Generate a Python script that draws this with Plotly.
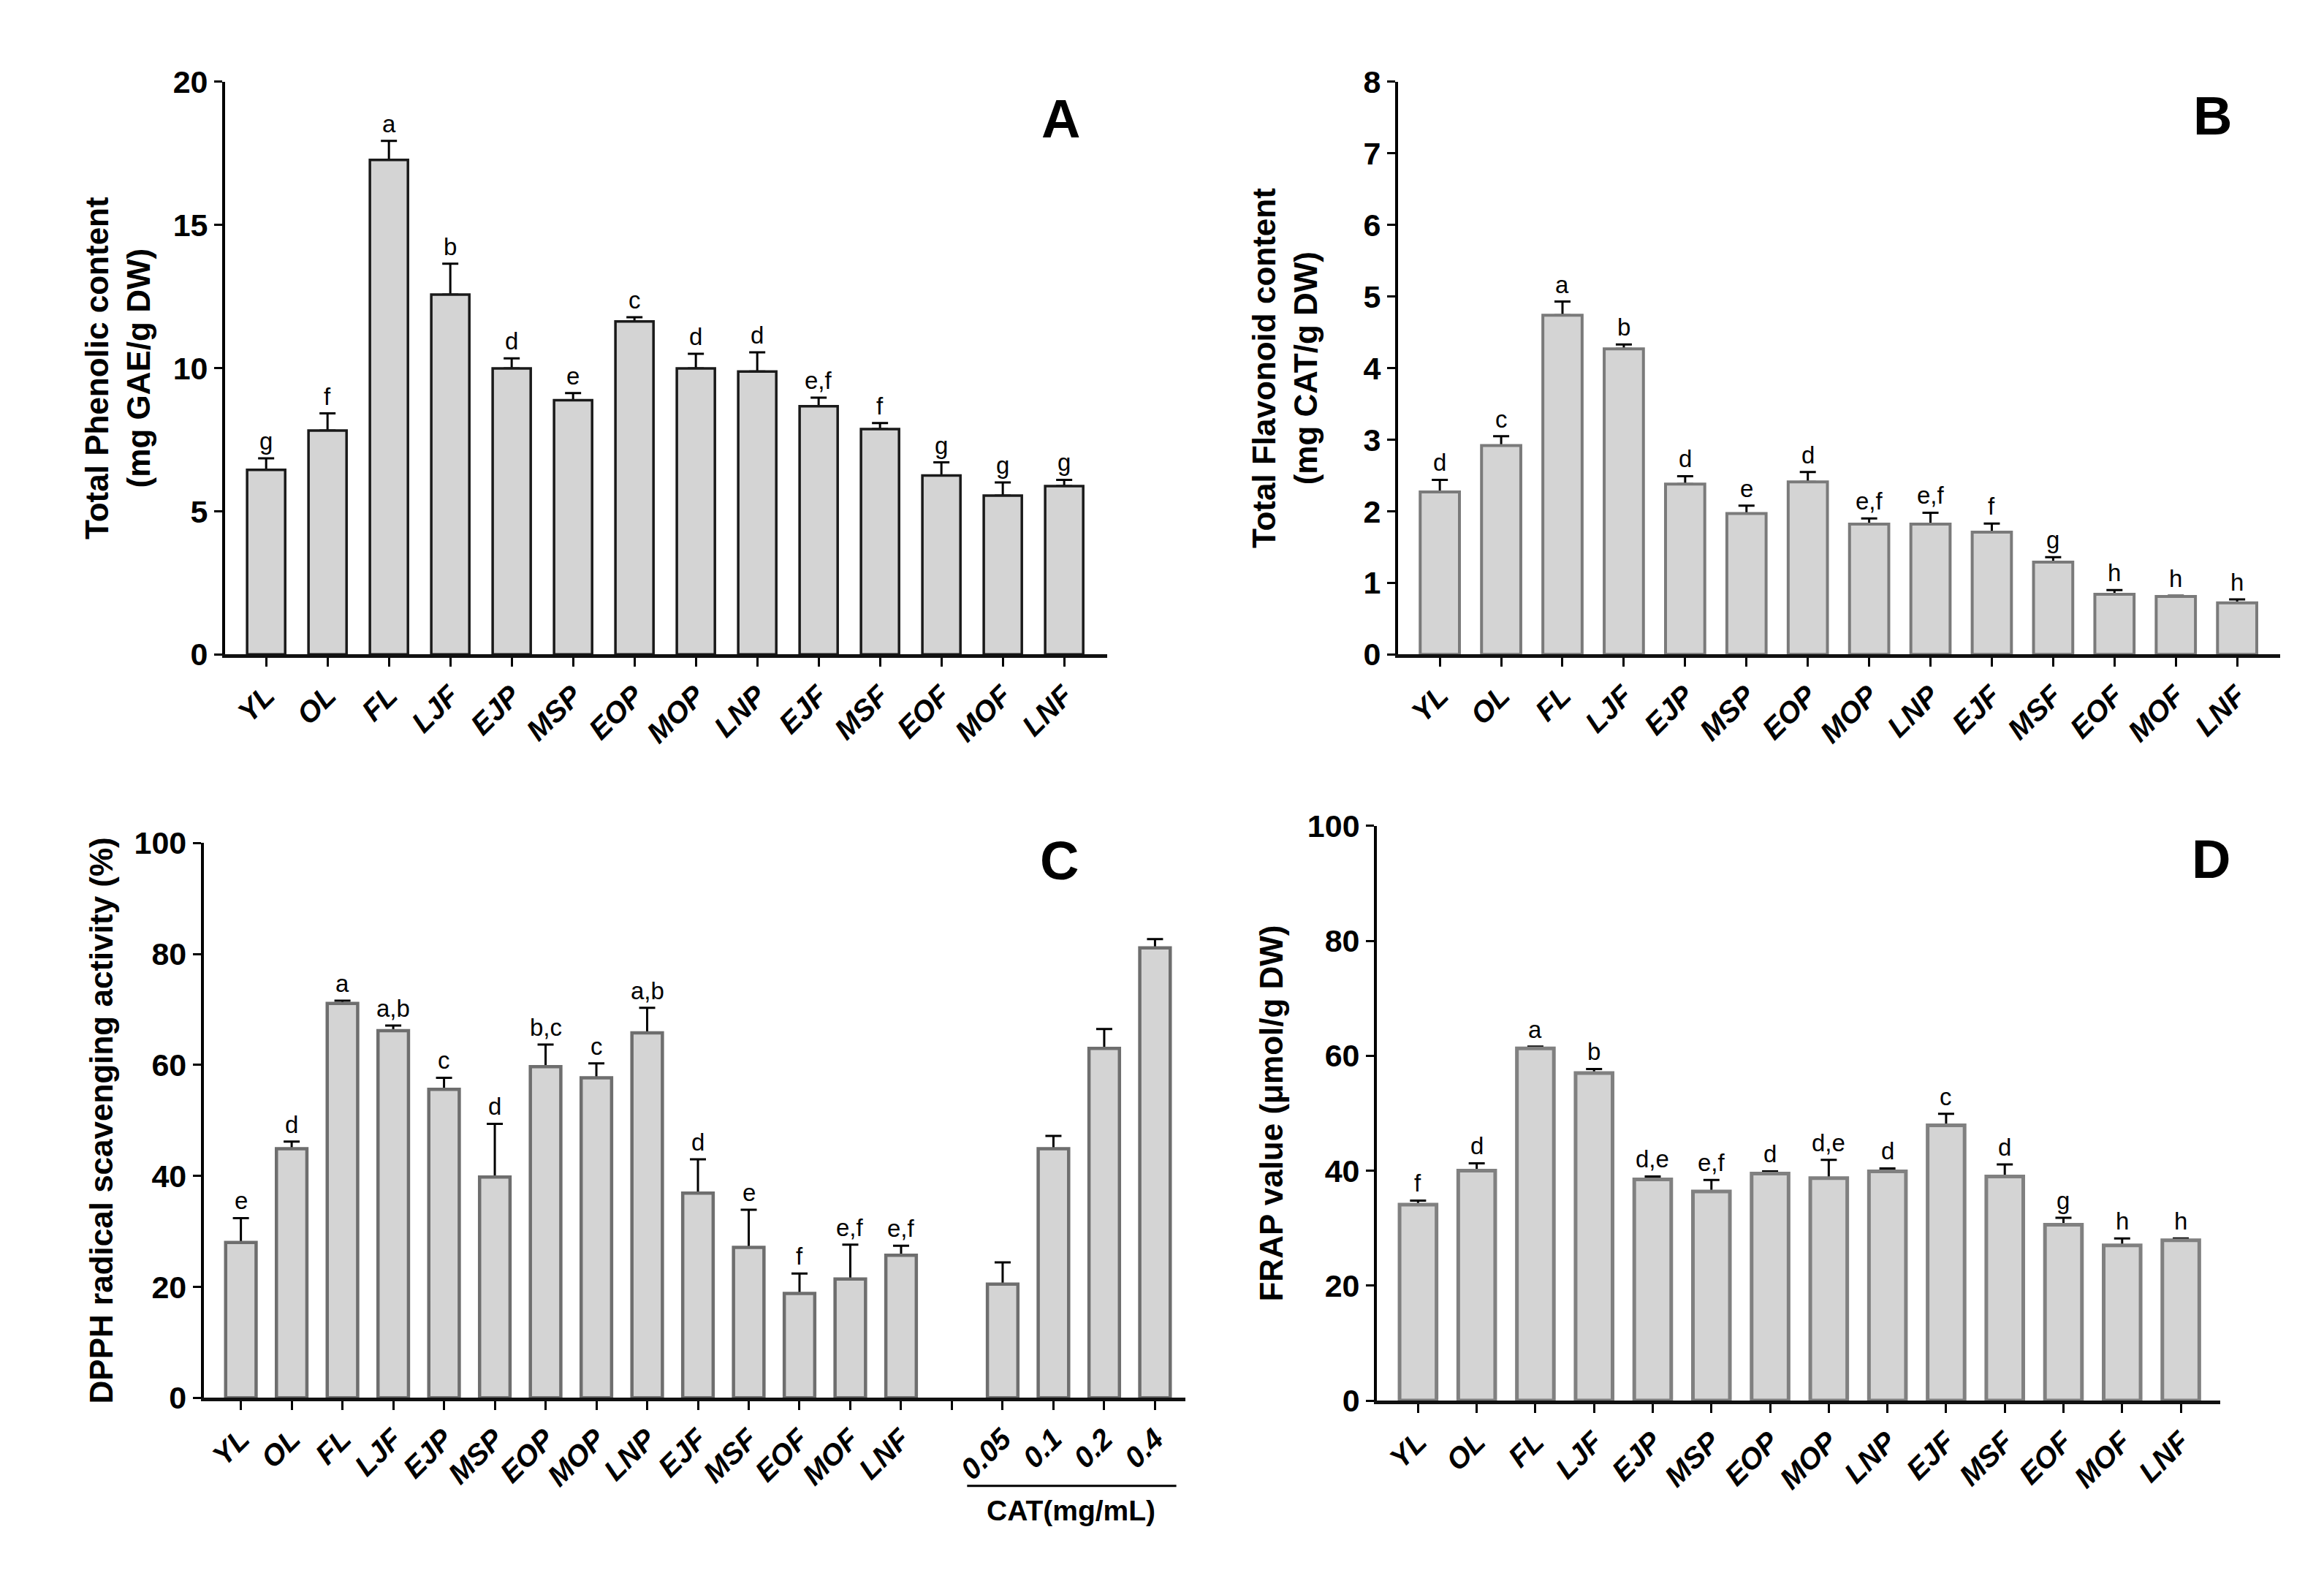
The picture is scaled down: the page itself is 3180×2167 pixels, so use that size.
# Antioxidant assays of the sample extracts: four bar panels (A-D)

import plotly.graph_objects as go

#-- Data

samples = ["YL", "OL", "FL", "LJF", "EJP", "MSP", "EOP", "MOP", "LNP", "EJF", "MSF", "EOF", "MOF", "LNF"]
cat_conc = ["0.05", "0.1", "0.2", "0.4"]

phenolic = [6.45, 7.82, 17.27, 12.57, 9.99, 8.88, 11.63, 9.99, 9.88, 8.67, 7.87, 6.25, 5.55, 5.88]
phenolic_err = [0.40, 0.60, 0.67, 1.08, 0.35, 0.25, 0.15, 0.51, 0.67, 0.30, 0.21, 0.46, 0.46, 0.22]
phenolic_sig = ["g", "f", "a", "b", "d", "e", "c", "d", "d", "e,f", "f", "g", "g", "g"]

flavonoid = [2.27, 2.92, 4.74, 4.27, 2.38, 1.97, 2.41, 1.82, 1.82, 1.71, 1.29, 0.84, 0.81, 0.72]
flavonoid_err = [0.17, 0.13, 0.19, 0.06, 0.11, 0.11, 0.14, 0.08, 0.16, 0.12, 0.07, 0.06, 0.01, 0.05]
flavonoid_sig = ["d", "c", "a", "b", "d", "e", "d", "e,f", "e,f", "f", "g", "h", "h", "h"]

dpph = [28.0, 44.9, 71.1, 66.2, 55.6, 39.8, 59.7, 57.7, 65.8, 36.9, 27.1, 18.8, 21.4, 25.7]
dpph_err = [4.4, 1.3, 0.5, 0.9, 2.1, 9.6, 4.0, 2.6, 4.5, 6.1, 6.8, 3.6, 6.2, 1.7]
dpph_sig = ["e", "d", "a", "a,b", "c", "d", "b,c", "c", "a,b", "d", "e", "f", "e,f", "e,f"]
cat_dpph = [20.5, 44.9, 63.0, 81.1]
cat_dpph_err = [3.9, 2.3, 3.5, 1.6]

frap = [34.1, 40.0, 61.3, 57.0, 38.5, 36.4, 39.5, 38.7, 39.9, 47.9, 39.0, 30.6, 27.0, 27.9]
frap_err = [0.7, 1.3, 0.3, 0.7, 0.5, 2.0, 0.4, 3.2, 0.5, 2.0, 2.1, 1.2, 1.2, 0.3]
frap_sig = ["f", "d", "a", "b", "d,e", "e,f", "d", "d,e", "d", "c", "d", "g", "h", "h"]

#-- Fonts / styles

FONT = "Liberation Sans, Arial"
FILL = "#d4d4d4"

pos = list(range(len(samples)))
# CAT bars sit after one empty slot
cat_pos = [len(samples) + 1 + i for i in range(len(cat_conc))]

fig = go.Figure()
annotations = []


def add_bars(n, x, y, err, outline, lw, width, sig=None):
    xa = "x" if n == 1 else "x%d" % n
    ya = "y" if n == 1 else "y%d" % n
    # invisible bars carry the error bars, real bars drawn on top hide the lower cap
    fig.add_trace(go.Bar(x=x, y=y, width=width, xaxis=xa, yaxis=ya,
                         marker=dict(color="rgba(0,0,0,0)", line=dict(width=0)),
                         error_y=dict(type="data", array=err, arrayminus=[0] * len(err),
                                      symmetric=False, color="black", thickness=3, width=11),
                         showlegend=False, hoverinfo="skip"))
    fig.add_trace(go.Bar(x=x, y=y, width=width, xaxis=xa, yaxis=ya,
                         marker=dict(color=FILL, line=dict(color=outline, width=lw)),
                         showlegend=False))
    if sig is not None:
        for xi, yi, ei, s in zip(x, y, err, sig):
            annotations.append(dict(x=xi, y=yi + ei, xref=xa, yref=ya, text=s, showarrow=False,
                                    yanchor="bottom", yshift=3,
                                    font=dict(family=FONT, size=33, color="black")))


add_bars(1, pos, phenolic, phenolic_err, "#1a1a1a", 3.5, 0.62, phenolic_sig)
add_bars(2, pos, flavonoid, flavonoid_err, "#7a7a7a", 4, 0.64, flavonoid_sig)
add_bars(3, pos, dpph, dpph_err, "#6e6e6e", 4.5, 0.6, dpph_sig)
add_bars(3, cat_pos, cat_dpph, cat_dpph_err, "#6e6e6e", 4.5, 0.6)
add_bars(4, pos, frap, frap_err, "#808080", 5, 0.63, frap_sig)


def yax(domain, rng, dtick, title, standoff, anchor):
    return dict(domain=domain, range=rng, dtick=dtick, anchor=anchor,
                showline=True, linecolor="black", linewidth=4,
                ticks="outside", ticklen=11, tickwidth=3, tickcolor="black",
                showgrid=False, zeroline=False,
                tickfont=dict(family=FONT, size=43, color="black", weight="bold"),
                title=dict(text=title, standoff=standoff,
                           font=dict(family=FONT, size=44, color="black", weight="bold")))


def xax(domain, rng, tickvals, ticktext, anchor):
    return dict(domain=domain, range=rng, anchor=anchor,
                tickmode="array", tickvals=tickvals, ticktext=ticktext,
                showline=True, linecolor="#111111", linewidth=5,
                ticks="outside", ticklen=12, tickwidth=3, tickcolor="black",
                showgrid=False, zeroline=False, tickangle=-45,
                tickfont=dict(family=FONT, size=40, color="black", weight="bold", style="italic"))


fig.update_layout(
    xaxis=xax([0.0969, 0.4764], [-0.667, 13.70], pos, samples, "y"),
    yaxis=yax([0.5888, 0.9585], [0, 20], 5, "Total Phenolic content<br>(mg GAE/g DW)", 18, "x"),
    xaxis2=xax([0.6016, 0.9811], [-0.68, 13.70], pos, samples, "y2"),
    yaxis2=yax([0.5888, 0.9585], [0, 8], 1, "Total Flavonoid content<br>(mg CAT/g DW)", 50, "x2"),
    xaxis3=xax([0.0877, 0.5101], [-0.73, 18.6], list(range(len(samples) + 1 + len(cat_conc))),
               samples + [""] + cat_conc, "y3"),
    yaxis3=yax([0.1089, 0.4670], [0, 100], 20, "DPPH radical scavenging activity (%)", 16, "x3"),
    xaxis4=xax([0.5925, 0.9553], [-0.70, 13.67], pos, samples, "y4"),
    yaxis4=yax([0.1071, 0.4781], [0, 100], 20, "FRAP value (μmol/g DW)", 20, "x4"),
    barmode="overlay",
    width=3180, height=2167,
    margin=dict(l=0, r=0, t=0, b=0),
    plot_bgcolor="white", paper_bgcolor="white",
)

# panel letters
for letter, px_, py_ in [("A", 0.4566, 0.9345), ("B", 0.9519, 0.9363),
                         ("C", 0.4557, 0.4555), ("D", 0.9513, 0.4568)]:
    annotations.append(dict(x=px_, y=py_, xref="paper", yref="paper", text=letter, showarrow=False,
                            xanchor="center", yanchor="middle",
                            font=dict(family=FONT, size=74, color="black", weight="bold")))

# CAT group label under panel C
fig.add_shape(type="line", xref="x3", yref="paper", x0=14.3, x1=18.42, y0=0.052, y1=0.052,
              line=dict(color="black", width=3))
annotations.append(dict(x=16.35, y=0.036, xref="x3", yref="paper", text="CAT(mg/mL)", showarrow=False,
                        xanchor="center", yanchor="middle",
                        font=dict(family=FONT, size=39, color="black", weight="bold")))

fig.update_layout(annotations=annotations)

# page body margin off so the figure sits at the window origin
fig.write_html("out.html", config={"displayModeBar": False},
               post_script="document.body.style.margin='0';")
